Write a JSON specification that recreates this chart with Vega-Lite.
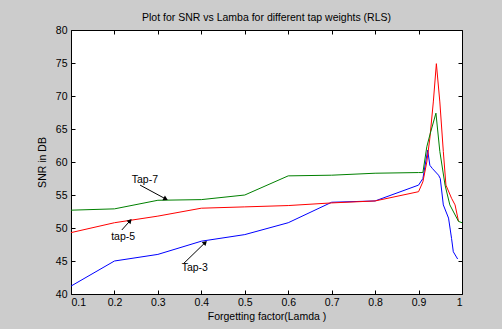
{
  "$schema": "https://vega.github.io/schema/vega-lite/v6.json",
  "width": 391,
  "height": 264,
  "autosize": {"type": "none"},
  "padding": {"left": 71, "top": 30, "right": 40, "bottom": 35},
  "background": "#cccccc",
  "title": {"text": "Plot for SNR vs Lamba for different tap weights (RLS)", "font": "Liberation Sans", "fontSize": 10.5, "fontWeight": "normal", "color": "#000000", "offset": 2},
  "config": {
    "view": {"fill": "#ffffff", "stroke": "#000000", "strokeWidth": 1},
    "axis": {"labelFont": "Liberation Sans", "titleFont": "Liberation Sans", "labelFontSize": 10.5, "titleFontSize": 10.5, "titleFontWeight": "normal", "labelColor": "#000000", "titleColor": "#000000", "tickColor": "#000000", "domain": false, "grid": false, "tickSize": -4}
  },
  "datasets": {
    "snr": [
      {"series": "Tap-3", "lambda": 0.1, "snr": 41.2},
      {"series": "Tap-3", "lambda": 0.2, "snr": 45.0},
      {"series": "Tap-3", "lambda": 0.3, "snr": 46.0},
      {"series": "Tap-3", "lambda": 0.4, "snr": 48.0},
      {"series": "Tap-3", "lambda": 0.5, "snr": 49.0},
      {"series": "Tap-3", "lambda": 0.6, "snr": 50.8},
      {"series": "Tap-3", "lambda": 0.7, "snr": 53.9},
      {"series": "Tap-3", "lambda": 0.8, "snr": 54.1},
      {"series": "Tap-3", "lambda": 0.9, "snr": 56.5},
      {"series": "Tap-3", "lambda": 0.91, "snr": 57.5},
      {"series": "Tap-3", "lambda": 0.921, "snr": 61.8},
      {"series": "Tap-3", "lambda": 0.926, "snr": 59.5},
      {"series": "Tap-3", "lambda": 0.932, "snr": 59.0},
      {"series": "Tap-3", "lambda": 0.946, "snr": 58.0},
      {"series": "Tap-3", "lambda": 0.95, "snr": 57.5},
      {"series": "Tap-3", "lambda": 0.957, "snr": 53.5},
      {"series": "Tap-3", "lambda": 0.969, "snr": 51.5},
      {"series": "Tap-3", "lambda": 0.976, "snr": 48.4},
      {"series": "Tap-3", "lambda": 0.98, "snr": 46.4},
      {"series": "Tap-3", "lambda": 0.99, "snr": 45.3},
      {"series": "tap-5", "lambda": 0.1, "snr": 49.3},
      {"series": "tap-5", "lambda": 0.2, "snr": 50.8},
      {"series": "tap-5", "lambda": 0.3, "snr": 51.8},
      {"series": "tap-5", "lambda": 0.4, "snr": 53.0},
      {"series": "tap-5", "lambda": 0.5, "snr": 53.2},
      {"series": "tap-5", "lambda": 0.6, "snr": 53.4},
      {"series": "tap-5", "lambda": 0.7, "snr": 53.8},
      {"series": "tap-5", "lambda": 0.8, "snr": 54.1},
      {"series": "tap-5", "lambda": 0.9, "snr": 55.5},
      {"series": "tap-5", "lambda": 0.91, "snr": 57.0},
      {"series": "tap-5", "lambda": 0.919, "snr": 60.0},
      {"series": "tap-5", "lambda": 0.926, "snr": 63.6},
      {"series": "tap-5", "lambda": 0.934, "snr": 69.1},
      {"series": "tap-5", "lambda": 0.941, "snr": 74.9},
      {"series": "tap-5", "lambda": 0.949, "snr": 69.1},
      {"series": "tap-5", "lambda": 0.957, "snr": 61.6},
      {"series": "tap-5", "lambda": 0.963, "snr": 56.5},
      {"series": "tap-5", "lambda": 0.976, "snr": 54.5},
      {"series": "tap-5", "lambda": 0.984, "snr": 53.5},
      {"series": "tap-5", "lambda": 0.992, "snr": 51.0},
      {"series": "Tap-7", "lambda": 0.1, "snr": 52.7},
      {"series": "Tap-7", "lambda": 0.2, "snr": 52.9},
      {"series": "Tap-7", "lambda": 0.3, "snr": 54.2},
      {"series": "Tap-7", "lambda": 0.4, "snr": 54.3},
      {"series": "Tap-7", "lambda": 0.5, "snr": 55.0},
      {"series": "Tap-7", "lambda": 0.6, "snr": 57.9},
      {"series": "Tap-7", "lambda": 0.7, "snr": 58.0},
      {"series": "Tap-7", "lambda": 0.8, "snr": 58.3},
      {"series": "Tap-7", "lambda": 0.9, "snr": 58.4},
      {"series": "Tap-7", "lambda": 0.91, "snr": 58.4},
      {"series": "Tap-7", "lambda": 0.919, "snr": 62.3},
      {"series": "Tap-7", "lambda": 0.926, "snr": 64.1},
      {"series": "Tap-7", "lambda": 0.94, "snr": 67.4},
      {"series": "Tap-7", "lambda": 0.949, "snr": 61.6},
      {"series": "Tap-7", "lambda": 0.961, "snr": 56.5},
      {"series": "Tap-7", "lambda": 0.972, "snr": 53.5},
      {"series": "Tap-7", "lambda": 0.992, "snr": 51.0},
      {"series": "Tap-7", "lambda": 1.0, "snr": 50.8}
    ],
    "notes": [
      {"label": "Tap-7", "tx": 0.27, "ty": 57.3, "ax": 0.259, "ay": 56.5, "bx": 0.318, "by": 54.4},
      {"label": "tap-5", "tx": 0.22, "ty": 48.7, "ax": 0.217, "ay": 49.7, "bx": 0.236, "by": 51.1},
      {"label": "Tap-3", "tx": 0.385, "ty": 43.9, "ax": 0.359, "ay": 44.6, "bx": 0.409, "by": 47.8}
    ]
  },
  "resolve": {"axis": {"x": "independent", "y": "independent"}},
  "layer": [
    {
      "data": {"name": "snr"},
      "mark": {"type": "line", "strokeWidth": 1},
      "encoding": {
        "x": {"field": "lambda", "type": "quantitative", "scale": {"domain": [0.1, 1], "nice": false, "zero": false},
              "axis": {"values": [0.1, 0.2, 0.3, 0.4, 0.5, 0.6, 0.7, 0.8, 0.9, 1], "format": "~g", "title": "Forgetting factor(Lamda )", "labelPadding": 7, "titlePadding": 4}},
        "y": {"field": "snr", "type": "quantitative", "scale": {"domain": [40, 80], "nice": false, "zero": false},
              "axis": {"values": [40, 45, 50, 55, 60, 65, 70, 75, 80], "title": "SNR in DB", "labelPadding": 8, "titlePadding": 8}},
        "color": {"field": "series", "type": "nominal", "scale": {"domain": ["Tap-3", "tap-5", "Tap-7"], "range": ["#0000ff", "#ff0000", "#008000"]}, "legend": null},
        "order": {"field": "lambda", "type": "quantitative"}
      }
    },
    {
      "data": {"name": "snr"},
      "mark": {"type": "point", "opacity": 0},
      "encoding": {
        "x": {"field": "lambda", "type": "quantitative",
              "axis": {"orient": "top", "values": [0.1, 0.2, 0.3, 0.4, 0.5, 0.6, 0.7, 0.8, 0.9, 1], "labels": false, "title": null}},
        "y": {"field": "snr", "type": "quantitative",
              "axis": {"orient": "right", "values": [40, 45, 50, 55, 60, 65, 70, 75, 80], "labels": false, "title": null}}
      }
    },
    {
      "data": {"name": "notes"},
      "mark": {"type": "rule", "color": "#000000", "strokeWidth": 1},
      "encoding": {
        "x": {"field": "ax", "type": "quantitative", "axis": null},
        "y": {"field": "ay", "type": "quantitative", "axis": null},
        "x2": {"field": "bx"},
        "y2": {"field": "by"}
      }
    },
    {
      "data": {"name": "notes"},
      "transform": [{"filter": "datum.label === 'Tap-7'"}],
      "mark": {"type": "point", "shape": "triangle-up", "filled": true, "color": "#000000", "size": 28, "angle": 118, "opacity": 1},
      "encoding": {"x": {"field": "bx", "type": "quantitative", "axis": null}, "y": {"field": "by", "type": "quantitative", "axis": null}}
    },
    {
      "data": {"name": "notes"},
      "transform": [{"filter": "datum.label === 'tap-5'"}],
      "mark": {"type": "point", "shape": "triangle-up", "filled": true, "color": "#000000", "size": 28, "angle": 42, "opacity": 1},
      "encoding": {"x": {"field": "bx", "type": "quantitative", "axis": null}, "y": {"field": "by", "type": "quantitative", "axis": null}}
    },
    {
      "data": {"name": "notes"},
      "transform": [{"filter": "datum.label === 'Tap-3'"}],
      "mark": {"type": "point", "shape": "triangle-up", "filled": true, "color": "#000000", "size": 28, "angle": 45, "opacity": 1},
      "encoding": {"x": {"field": "bx", "type": "quantitative", "axis": null}, "y": {"field": "by", "type": "quantitative", "axis": null}}
    },
    {
      "data": {"name": "notes"},
      "mark": {"type": "text", "font": "Liberation Sans", "fontSize": 10.5, "color": "#000000"},
      "encoding": {
        "x": {"field": "tx", "type": "quantitative", "axis": null},
        "y": {"field": "ty", "type": "quantitative", "axis": null},
        "text": {"field": "label"}
      }
    }
  ]
}
